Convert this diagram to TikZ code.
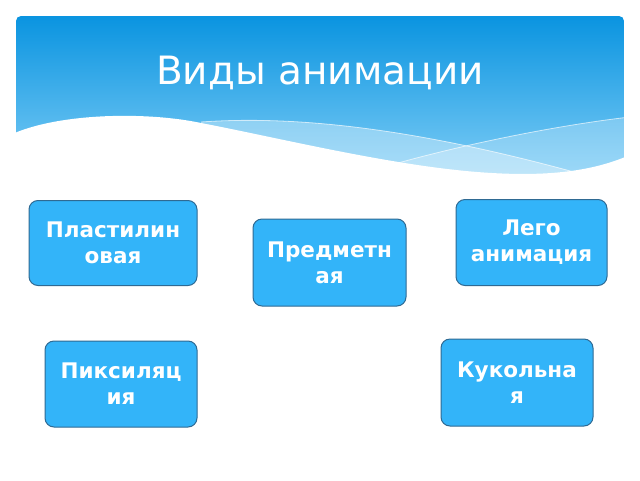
\documentclass[tikz,border=0pt]{standalone}
\usepackage{fontspec}
\setmainfont{DejaVu Sans}
\newfontfamily\titlefont{DejaVu Sans}
\newfontfamily\boxfont{DejaVu Sans Bold}
\definecolor{hdtop}{HTML}{0A94E0}
\definecolor{hdbot}{HTML}{7ECDF6}
\definecolor{boxfill}{HTML}{33B4F9}
\definecolor{boxedge}{HTML}{2F6A93}
\tikzset{
  kind/.style={draw=boxedge, fill=boxfill, line width=1pt, rounded corners=9pt,
    text=white, align=center, inner sep=0pt,
    font=\boxfont\fontsize{21.5}{26}\selectfont},
  waveline/.style={draw=white, draw opacity=0.65, line width=0.8pt}
}
\begin{document}
\begin{tikzpicture}[x=1pt,y=-1pt]
\useasboundingbox (0,0) rectangle (640,480);
\fill[white] (0,0) rectangle (640,480);
% header
\begin{scope}
\path[clip,rounded corners=5pt] (16,190) -- (16,16) -- (624,16) -- (624,190) -- cycle;
\shade[top color=hdtop, bottom color=hdbot] (16,16) rectangle (624,178);
\fill[white, fill opacity=0.35] (201,122) .. controls (300,115) and (420,130) .. (574,172) -- (574,190) -- (201,190) -- cycle;
\fill[white, fill opacity=0.25] (398,163) .. controls (470,143) and (560,125) .. (630,117) -- (630,190) -- (398,190) -- cycle;
\draw[waveline] (201,122) .. controls (300,115) and (420,130) .. (574,172);
\draw[waveline] (398,163) .. controls (470,143) and (560,125) .. (630,117);
\fill[white] (10,135) .. controls (60,112) and (150,112) .. (201,123)
  .. controls (280,138) and (400,168) .. (492,173)
  .. controls (560,177) and (600,168) .. (630,155) -- (630,195) -- (10,195) -- cycle;
\end{scope}
\node[anchor=base, text=white, font=\titlefont\fontsize{39}{45}\selectfont] (title) at (320,84) {Виды анимации};
% boxes
\node[kind, minimum width=168pt, minimum height=85pt] (plast) at (113,243) {Пластилин\\овая};
\node[kind, minimum width=153pt, minimum height=87pt] (pred) at (329.5,262.5) {Предметн\\ая};
\node[kind, minimum width=151pt, minimum height=86pt] (lego) at (531.5,242.5) {Лего\\анимация};
\node[kind, minimum width=152pt, minimum height=86pt] (pix) at (121,384) {Пиксиляц\\ия};
\node[kind, minimum width=152pt, minimum height=87pt] (kukl) at (517,382.5) {Кукольна\\я};
\end{tikzpicture}
\end{document}
